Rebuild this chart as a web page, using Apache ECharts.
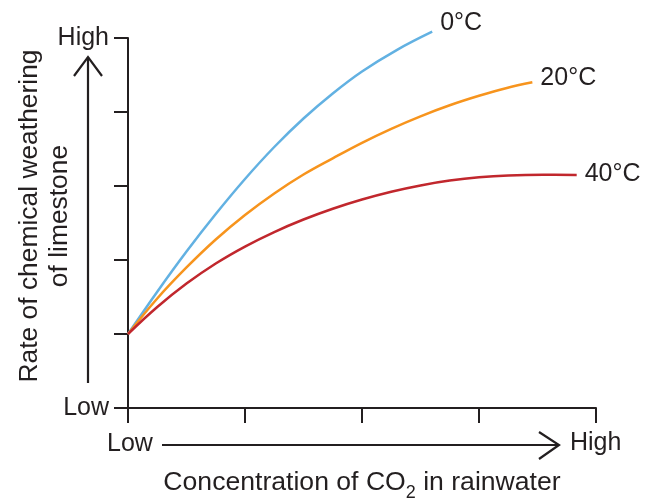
<!DOCTYPE html>
<html>
<head>
<meta charset="utf-8">
<script src="https://cdn.jsdelivr.net/npm/echarts@6/dist/echarts.min.js"></script>
<style>
html,body{margin:0;padding:0;background:#fff;}
#c{width:646px;height:503px;}
</style>
</head>
<body>
<div id="c"></div>
<script>
// Relative units: x axis 0..4 (Low..High), y axis 0..5 (Low..High)
const seriesNames = ['0°C', '20°C', '40°C'];
const seriesColors = ['#62b1e2', '#f7941d', '#c1272d'];

const x0C = [0, 0.25, 0.5, 0.75, 1.0, 1.25, 1.5, 1.75, 2.0, 2.3, 2.60];
const y0C = [1, 1.572, 2.115, 2.622, 3.095, 3.527, 3.912, 4.250, 4.547, 4.840, 5.085];

const x20C = [0, 0.25, 0.5, 0.75, 1.0, 1.25, 1.5, 1.75, 2.0, 2.25, 2.5, 2.75, 3.0, 3.23, 3.456];
const y20C = [1, 1.480, 1.899, 2.277, 2.608, 2.899, 3.155, 3.374, 3.584, 3.773, 3.942, 4.091, 4.219, 4.322, 4.401];

const x40C = [0, 0.25, 0.5, 0.75, 1.0, 1.25, 1.5, 1.75, 2.0, 2.25, 2.5, 2.75, 3.0, 3.25, 3.55, 3.835];
const y40C = [1, 1.365, 1.682, 1.953, 2.182, 2.378, 2.547, 2.693, 2.818, 2.923, 3.008, 3.073, 3.118, 3.143, 3.152, 3.149];

const yTickLabels = {0: 'Low', 5: 'High'};
const xEndLabels = ['Low', 'High'];

const textColor = '#231f20';
const font = 'Liberation Sans, Arial, sans-serif';

function pairs(xs, ys) { return xs.map((x, i) => [x, ys[i]]); }
const allX = [x0C, x20C, x40C];
const allY = [y0C, y20C, y40C];
const labelOffsets = [[0, -9], [0, -4], [0, -1]];

const chart = echarts.init(document.getElementById('c'), null, {renderer: 'canvas'});
chart.setOption({
  animation: false,
  backgroundColor: '#fff',
  grid: {left: 128, right: 50, top: 38, bottom: 95},
  xAxis: {
    type: 'value', min: 0, max: 4, interval: 1,
    axisLine: {show: true, lineStyle: {color: textColor, width: 2}},
    axisTick: {show: true, inside: false, length: 15, lineStyle: {color: textColor, width: 2}},
    axisLabel: {show: false},
    splitLine: {show: false}
  },
  yAxis: {
    type: 'value', min: 0, max: 5, interval: 1,
    axisLine: {show: true, lineStyle: {color: textColor, width: 2}},
    axisTick: {show: true, inside: false, length: 14, lineStyle: {color: textColor, width: 2}},
    axisLabel: {
      show: true, margin: 19, color: textColor, fontSize: 25, fontFamily: font,
      formatter: v => yTickLabels[v] || ''
    },
    splitLine: {show: false}
  },
  series: seriesNames.map((name, i) => ({
    name: name,
    type: 'line',
    smooth: 0.4,
    clip: false,
    symbol: 'none',
    lineStyle: {color: seriesColors[i], width: 2.5},
    data: pairs(allX[i], allY[i]),
    endLabel: {
      show: true, formatter: name, distance: 8, offset: labelOffsets[i],
      color: textColor, fontSize: 25, fontFamily: font
    }
  })),
  graphic: [
    // y arrow
    {type: 'polyline', shape: {points: [[88, 383], [88, 57]]}, style: {stroke: textColor, lineWidth: 2.2, fill: null}},
    {type: 'polyline', shape: {points: [[74, 76], [88, 57], [102, 76]]}, style: {stroke: textColor, lineWidth: 2.2, fill: null}},
    // x arrow
    {type: 'polyline', shape: {points: [[162, 445], [559, 445]]}, style: {stroke: textColor, lineWidth: 2.2, fill: null}},
    {type: 'polyline', shape: {points: [[539, 432], [559, 445], [539, 459]]}, style: {stroke: textColor, lineWidth: 2.2, fill: null}},
    {type: 'text', x: 107, y: 444, style: {text: xEndLabels[0], fill: textColor, font: '25px ' + font, textAlign: 'left', textVerticalAlign: 'middle'}},
    {type: 'text', x: 570, y: 443, style: {text: xEndLabels[1], fill: textColor, font: '25px ' + font, textAlign: 'left', textVerticalAlign: 'middle'}},
    // y title
    {type: 'text', x: 45, y: 216, rotation: Math.PI / 2,
     style: {text: 'Rate of chemical weathering\nof limestone', fill: textColor, font: '26.4px ' + font,
             textAlign: 'center', textVerticalAlign: 'middle', lineHeight: 30}},
    // x title
    {type: 'text', x: 362, y: 483,
     style: {
       text: '{n|Concentration of CO}{s|2}{n| in rainwater}',
       textAlign: 'center', textVerticalAlign: 'middle',
       rich: {
         n: {fontSize: 26.6, fontFamily: font, fill: textColor, color: textColor, lineHeight: 30, verticalAlign: 'middle'},
         s: {fontSize: 18, fontFamily: font, fill: textColor, color: textColor, lineHeight: 38, verticalAlign: 'bottom'}
       }
     }}
  ]
});
</script>
</body>
</html>
